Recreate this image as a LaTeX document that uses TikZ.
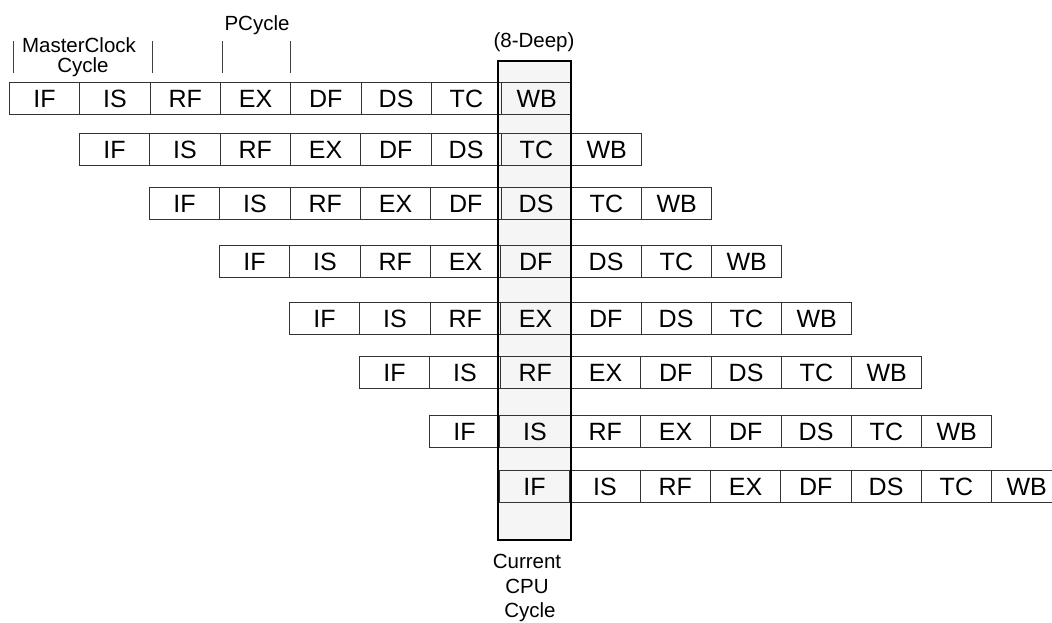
\documentclass[tikz,border=0pt]{standalone}
\usepackage{fontspec}
\setmainfont{Liberation Sans}
\begin{document}
\begin{tikzpicture}[x=1pt,y=-1pt,
  cell/.style={draw=black!80, line width=0.9pt, minimum width=70.3pt, minimum height=31.5pt,
    inner sep=0pt, anchor=north west, font=\fontsize{25}{30}\selectfont, text height=18pt, text depth=0pt},
  lbl/.style={font=\fontsize{20.5}{25}\selectfont, inner sep=0pt, anchor=base},
  tick/.style={draw=black!75, line width=0.9pt},
  colbox/.style={draw=black, line width=1.4pt, minimum width=73pt, minimum height=479pt, inner sep=0pt}]
\useasboundingbox (0,0) rectangle (1052,622);
\fill[black!4] (498,61) rectangle (571,540);
\foreach \y [count=\r from 0] in {82,133,187,245,302,356,415,470} {
  \foreach \s [count=\c from 0] in {IF,IS,RF,EX,DF,DS,TC,WB} {
    \node[cell] (r\r-\c) at ({9+70*\r+70.3*\c},\y) {\s};
  }
}
\node[colbox] (col) at (534.5,300.5) {};
% top labels
\node[lbl] (mc1) at (79,52) {MasterClock};
\node[lbl] (mc2) at (83,72) {Cycle};
\node[lbl] (pc) at (257,30) {PCycle};
\node[lbl] (deep) at (534,47) {(8-Deep)};
\draw[tick] (13,41) -- (13,73);
\draw[tick] (152,41) -- (152,73);
\draw[tick] (222,41) -- (222,73);
\draw[tick] (290,41) -- (290,73);
% bottom label
\node[lbl] (cur1) at (527,568) {Current};
\node[lbl] (cur2) at (527,593) {CPU};
\node[lbl] (cur3) at (530,617) {Cycle};
\end{tikzpicture}
\end{document}
